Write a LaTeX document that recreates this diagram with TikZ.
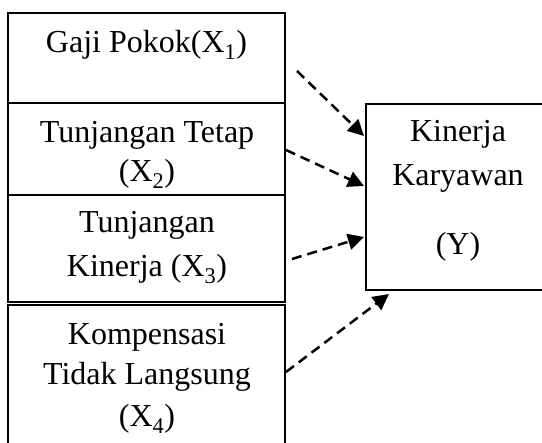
\documentclass[tikz,border=0pt]{standalone}
\usepackage{fontspec}
\setmainfont{Liberation Serif}
\usetikzlibrary{arrows.meta}
\begin{document}
\begin{tikzpicture}[x=1pt,y=-1pt,
  box/.style={draw, line width=1.3pt, inner sep=0pt, rectangle},
  lbl/.style={anchor=base, inner sep=0pt, font=\fontsize{32}{38}\selectfont},
  arr/.style={line width=2.5pt, dash pattern=on 10pt off 6pt, -{Triangle[length=16pt,width=16pt]}}]
\useasboundingbox (0,0) rectangle (542,443);
\begin{scope}
\clip (0,0) rectangle (542,443);
% boxes
\node[box, minimum width=277pt, minimum height=90pt] (b1) at (146.5,58) {};
\node[box, minimum width=277pt, minimum height=92pt] (b2) at (146.5,149) {};
\node[box, minimum width=277pt, minimum height=107pt] (b3) at (146.5,248.5) {};
\node[box, minimum width=277pt, minimum height=156pt] (b4) at (146.5,383) {};
\node[box, minimum width=186pt, minimum height=186pt] (y) at (459,197) {};
\end{scope}
% labels
\node[lbl] (t1) at (146.5,53) {Gaji Pokok(X\textsubscript{1})};
\node[lbl] (t2a) at (147,143) {Tunjangan Tetap};
\node[lbl] (t2b) at (147,182) {(X\textsubscript{2})};
\node[lbl] (t3a) at (147,233) {Tunjangan};
\node[lbl] (t3b) at (147,277) {Kinerja (X\textsubscript{3})};
\node[lbl] (t4a) at (147,345) {Kompensasi};
\node[lbl] (t4b) at (147,385) {Tidak Langsung};
\node[lbl] (t4c) at (147,427) {(X\textsubscript{4})};
\node[lbl] (ya) at (458,142) {Kinerja};
\node[lbl] (yb) at (458,186) {Karyawan};
\node[lbl] (yc) at (458,255) {(Y)};
% connector ends
\coordinate (s1) at (297,71);
\coordinate (e1) at (364,136);
\coordinate (s2) at (286,150);
\coordinate (e2) at (364,186);
\coordinate (s3) at (292,259);
\coordinate (e3) at (364,237);
\coordinate (s4) at (286,372);
\coordinate (e4) at (389,294);
\draw[arr] (s1) -- (e1);
\draw[arr] (s2) -- (e2);
\draw[arr] (s3) -- (e3);
\draw[arr] (s4) -- (e4);
\end{tikzpicture}
\end{document}
